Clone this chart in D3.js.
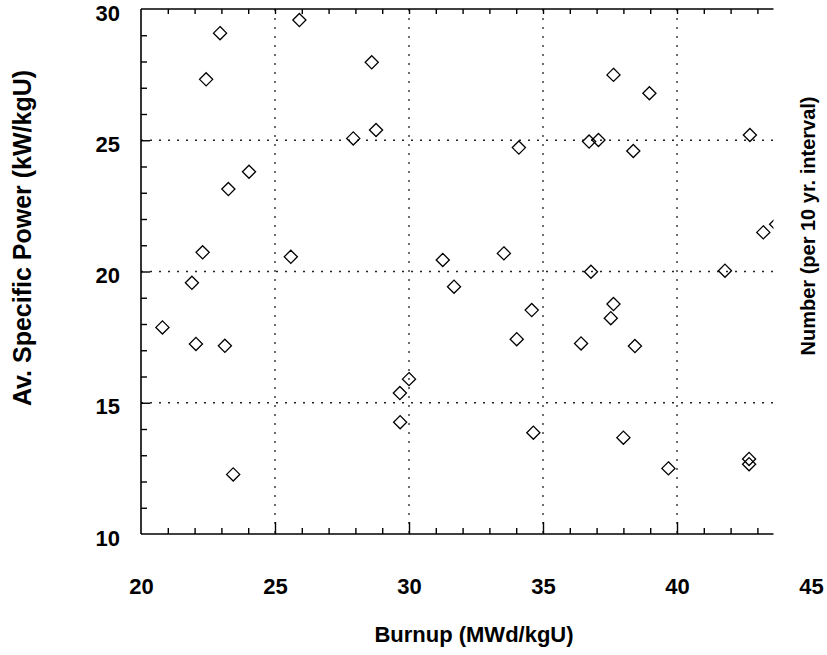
<!DOCTYPE html>
<html>
<head>
<meta charset="utf-8">
<script src="https://cdn.jsdelivr.net/npm/d3@7"></script>
<style>
  body { margin: 0; background: #fff; }
  svg text { font-family: Arial, "Liberation Sans", sans-serif; font-weight: bold; fill: #000; }
</style>
</head>
<body>
<div id="chart"></div>
<script>
// burnup (MWd/kgU) vs average specific power (kW/kgU)
let burnup = [20.8, 21.9, 22.05, 22.3, 22.43, 22.95, 23.26, 23.13, 24.03, 23.44,
              25.59, 25.91, 27.92, 28.61, 28.77, 29.66, 29.67, 30.0, 31.26, 31.68,
              33.54, 34.02, 34.1, 34.58, 34.64, 36.42, 36.72, 36.79, 37.07, 37.53,
              37.63, 37.63, 38.0, 38.43, 38.37, 38.97, 39.68, 41.79, 42.72, 42.69,
              42.69, 43.22, 43.7]
let power  = [17.87, 19.57, 17.24, 20.73, 27.32, 29.08, 23.14, 17.17, 23.8, 12.27,
              20.56, 29.58, 25.07, 27.97, 25.39, 15.37, 14.26, 15.9, 20.44, 19.42,
              20.69, 17.42, 24.72, 18.53, 13.86, 17.26, 24.95, 19.99, 25.01, 18.22,
              18.76, 27.49, 13.67, 17.16, 24.59, 26.79, 12.5, 20.03, 25.2, 12.86,
              12.66, 21.49, 21.8]

let xTicks = [20, 25, 30, 35, 40, 45]
let yTicks = [10, 15, 20, 25, 30]
let xGrid = [25, 30, 35, 40]
let yGrid = [15, 20, 25]

let W = 827, H = 655
let svg = d3.select("#chart").append("svg")
    .attr("width", W)
    .attr("height", H)

let x = d3.scaleLinear().domain([20, 45]).range([141, 811])
let y = d3.scaleLinear().domain([10, 30]).range([534, 9])
let xEnd = 43.6   // frame is cut off before 45

// clip for the markers
svg.append("clipPath").attr("id", "plotclip")
  .append("rect")
    .attr("x", x(20)).attr("y", 0)
    .attr("width", x(xEnd) - x(20)).attr("height", y(10) + 2)

// dotted grid
let grid = svg.append("g").attr("stroke", "#222").attr("stroke-width", 1.3)
    .attr("stroke-dasharray", "2,7")
grid.selectAll("line.v").data(xGrid).enter().append("line")
    .attr("x1", d => x(d)).attr("x2", d => x(d))
    .attr("y1", y(30)).attr("y2", y(10))
grid.selectAll("line.h").data(yGrid).enter().append("line")
    .attr("x1", x(20)).attr("x2", x(xEnd))
    .attr("y1", d => y(d)).attr("y2", d => y(d))

let minorX = d3.range(21, 44)
let minorY = d3.range(11, 30)

// bottom axis ticks (pointing up)
let gb = svg.append("g").attr("transform", "translate(0," + y(10) + ")")
    .call(d3.axisBottom(x).tickValues(minorX).tickSize(-6).tickFormat(""))
gb.selectAll("line").attr("y2", d => xGrid.includes(d) ? -12 : -6)
// top axis ticks (pointing down)
let gt = svg.append("g").attr("transform", "translate(0," + y(30) + ")")
    .call(d3.axisTop(x).tickValues(minorX).tickSize(-5).tickFormat(""))
// left axis ticks (pointing right)
let gl = svg.append("g").attr("transform", "translate(" + x(20) + ",0)")
    .call(d3.axisLeft(y).tickValues(minorY).tickSize(-6).tickFormat(""))
gl.selectAll("line").attr("x2", d => yGrid.includes(d) ? 9 : 6)
svg.selectAll(".domain").remove()
svg.selectAll(".tick line").attr("stroke", "#000").attr("stroke-width", 1.4)

// frame lines (no right edge)
let frame = svg.append("g").attr("stroke", "#000").attr("stroke-width", 1.6)
frame.append("line").attr("x1", x(20)).attr("x2", x(xEnd)).attr("y1", y(10)).attr("y2", y(10))
frame.append("line").attr("x1", x(20)).attr("x2", x(xEnd)).attr("y1", y(30)).attr("y2", y(30))
frame.append("line").attr("x1", x(20)).attr("x2", x(20)).attr("y1", y(30)).attr("y2", y(10))

// tick labels
let lx = svg.append("g").attr("transform", "translate(0," + y(10) + ")")
    .call(d3.axisBottom(x).tickValues(xTicks).tickSize(0).tickPadding(44))
lx.selectAll("text").style("font-size", "22px")
let ly = svg.append("g").attr("transform", "translate(" + x(20) + ",4)")
    .call(d3.axisLeft(y).tickValues(yTicks).tickSize(0).tickPadding(21))
ly.selectAll("text").style("font-size", "22px")
lx.select(".domain").remove()
ly.select(".domain").remove()

// diamonds
let sym = d3.symbol().type(d3.symbolDiamond2).size(110)
svg.append("g").attr("clip-path", "url(#plotclip)")
  .selectAll("path").data(burnup).enter().append("path")
    .attr("d", sym)
    .attr("transform", (d, i) => "translate(" + x(d) + "," + y(power[i]) + ")")
    .attr("fill", "none")
    .attr("stroke", "#000")
    .attr("stroke-width", 1.3)

// axis titles
svg.append("text")
    .attr("x", 474).attr("y", 642)
    .attr("text-anchor", "middle")
    .style("font-size", "22px")
    .text("Burnup (MWd/kgU)")
svg.append("text")
    .attr("transform", "translate(31,238) rotate(-90)")
    .attr("text-anchor", "middle")
    .style("font-size", "25px")
    .text("Av. Specific Power (kW/kgU)")
svg.append("text")
    .attr("transform", "translate(815,226) rotate(-90)")
    .attr("text-anchor", "middle")
    .style("font-size", "20px")
    .text("Number (per 10 yr. interval)")
</script>
</body>
</html>
